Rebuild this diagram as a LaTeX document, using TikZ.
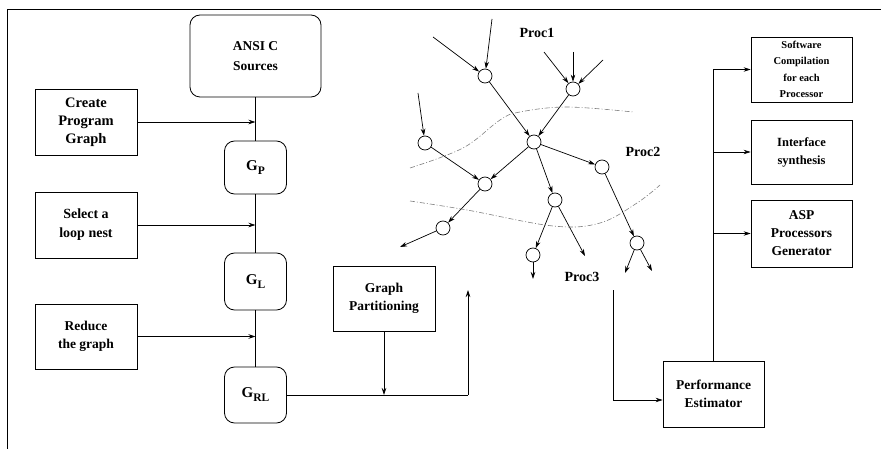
\documentclass[tikz,border=0pt]{standalone}
\usepackage{fontspec}
\setmainfont{Liberation Serif}
\usetikzlibrary{arrows.meta,calc}

\newcommand{\gsub}[1]{\fontsize{15}{16}\selectfont G\raisebox{-4pt}{\fontsize{11.5}{12}\selectfont #1}}

\tikzset{
  box/.style={draw, rectangle, align=center, inner sep=0pt, line width=0.8pt,
    font=\fontsize{13.5}{18}\selectfont\bfseries},
  rbox/.style={box, rounded corners=10pt},
  vtx/.style={draw, circle, minimum size=14pt, inner sep=0pt, line width=0.7pt},
  arr/.style={-{Stealth[length=7pt,width=4.5pt]}, line width=0.7pt},
  flow/.style={line width=0.7pt},
  lbl/.style={font=\fontsize{14}{15}\selectfont\bfseries},
  cut/.style={gray, line width=0.6pt, dash pattern=on 5pt off 2pt on 1pt off 2pt},
}

\begin{document}
\begin{tikzpicture}[x=1pt, y=-1pt]
\useasboundingbox (0,0) rectangle (881,449);

% frame
\draw[line width=0.9pt] (7,449) -- (7,9) -- (881,9);

% left column: program graph construction
\node[rbox, minimum width=131pt, minimum height=82pt, font=\fontsize{13.5}{20}\selectfont\bfseries]
  (ansi) at (255.5,56) {ANSI C\\Sources};
\node[box, minimum width=102pt, minimum height=66pt, font=\fontsize{14.5}{18}\selectfont\bfseries]
  (create) at (86,122) {Create\\Program\\Graph};
\node[box, minimum width=102pt, minimum height=66pt, font=\fontsize{14}{19}\selectfont\bfseries]
  (select) at (86,225) {Select a\\loop nest};
\node[box, minimum width=102pt, minimum height=65pt] (reduce) at (86,336.5) {Reduce\\the graph};

\node[rbox, minimum width=62pt, minimum height=53pt] (gp) at (255.5,167.5) {\gsub{P}};
\node[rbox, minimum width=62pt, minimum height=57pt] (gl) at (255.5,281.5) {\gsub{L}};
\node[rbox, minimum width=62pt, minimum height=56pt] (grl) at (255.5,395) {\gsub{RL}};

\draw[flow] (ansi) -- (gp) -- (gl) -- (grl);
\draw[arr] (create) -- (create -| gp);
\draw[arr] (select) -- (select -| gp);
\draw[arr] (reduce) -- (reduce -| gp);

% partitioning
\node[box, minimum width=102pt, minimum height=65pt] (gpart) at (384,298.5) {Graph\\Partitioning};
\coordinate (pc) at (468,395);
\coordinate (pt) at (468,290);
\draw[flow] (grl.east) -- (pc);
\draw[arr] (pc) -- (pt);
\draw[arr] (gpart.south) -- (gpart.south |- pc);

% partitioned task graph
\node[vtx] (n1) at (485,76) {};
\node[vtx] (n2) at (573,89) {};
\node[vtx] (n3) at (534,142) {};
\node[vtx] (n4) at (425,143) {};
\node[vtx] (n5) at (485,184) {};
\node[vtx] (n6) at (602,167) {};
\node[vtx] (n7) at (555,200) {};
\node[vtx] (n8) at (443,228) {};
\node[vtx] (n9) at (533,255) {};
\node[vtx] (n10) at (637,243) {};

\coordinate (i1) at (433,37);
\coordinate (i2) at (492,19);
\coordinate (i3) at (544,52);
\coordinate (i4) at (573,52);
\coordinate (i5) at (603,60);
\coordinate (i6) at (418,93);
\coordinate (o1) at (400,247);
\coordinate (o2) at (585,256);
\coordinate (o3) at (533,279);
\coordinate (o4) at (625,273);
\coordinate (o5) at (652,271);

\draw[arr] (i1) -- (n1);
\draw[arr] (i2) -- (n1);
\draw[arr] (i3) -- (n2);
\draw[arr] (i4) -- (n2);
\draw[arr] (i5) -- (n2);
\draw[arr] (i6) -- (n4);
\draw[arr] (n1) -- (n3);
\draw[arr] (n2) -- (n3);
\draw[arr] (n3) -- (n6);
\draw[arr] (n3) -- (n5);
\draw[arr] (n3) -- (n7);
\draw[arr] (n4) -- (n5);
\draw[arr] (n5) -- (n8);
\draw[arr] (n8) -- (o1);
\draw[arr] (n7) -- (n9);
\draw[arr] (n7) -- (o2);
\draw[arr] (n9) -- (o3);
\draw[arr] (n6) -- (n10);
\draw[arr] (n10) -- (o4);
\draw[arr] (n10) -- (o5);

% processor boundaries
\draw[cut] plot[smooth, tension=0.6] coordinates {(410,168) (463,148) (500,120) (520,112) (567,107) (633,112)};
\draw[cut] plot[smooth, tension=0.6] coordinates {(410,201) (467,210) (553,226) (600,223) (637,203) (660,185)};

\node[lbl] (p1) at (537,33) {Proc1};
\node[lbl] (p2) at (643,152) {Proc2};
\node[lbl] (p3) at (582,277) {Proc3};

% estimation and generation
\node[box, minimum width=101pt, minimum height=66pt] (perf) at (713.5,394) {Performance\\Estimator};
\node[box, minimum width=101pt, minimum height=65pt, font=\fontsize{10.5}{16.5}\selectfont\bfseries]
  (sw) at (801.5,69.5) {Software\\Compilation\\for each\\Processor};
\node[box, minimum width=101pt, minimum height=64pt, font=\fontsize{12.5}{18}\selectfont\bfseries]
  (ifs) at (801.5,152) {Interface\\synthesis};
\node[box, minimum width=101pt, minimum height=67pt] (asp) at (801.5,233.5) {ASP\\Processors\\Generator};

\coordinate (q1) at (613,290);
\draw[arr] (q1) |- ([yshift=-6pt]perf.west);

\draw[flow] (perf.north) -- (perf.north |- sw.west);
\draw[arr] (perf.north |- sw.west) -- (sw.west);
\draw[arr] (perf.north |- ifs.west) -- (ifs.west);
\draw[arr] (perf.north |- asp.west) -- (asp.west);
\end{tikzpicture}
\end{document}
